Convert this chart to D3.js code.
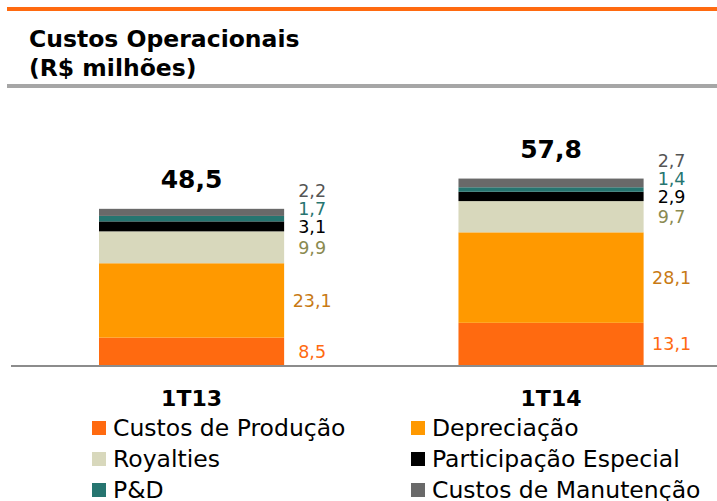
<!DOCTYPE html>
<html>
<head>
<meta charset="utf-8">
<script src="https://cdn.jsdelivr.net/npm/d3@7"></script>
<style>
  body { margin: 0; background: #fff; }
  text { font-family: "DejaVu Sans", Verdana, sans-serif; }
</style>
</head>
<body>
<svg width="717" height="501"></svg>
<script>
// data
var periods = ["1T13", "1T14"];
var seriesNames = ["Custos de Produção", "Depreciação", "Royalties", "Participação Especial", "P&D", "Custos de Manutenção"];
var custosProducao = [8.5, 13.1];
var depreciacao = [23.1, 28.1];
var royalties = [9.9, 9.7];
var participacao = [3.1, 2.9];
var pd = [1.7, 1.4];
var manutencao = [2.2, 2.7];
var totals = [48.5, 57.8];

var fills = ["#ff6a10", "#ff9900", "#d8d8bc", "#000000", "#267570", "#696969"];
var labelColors = ["#ff6a10", "#c87a14", "#8a8a50", "#000000", "#267570", "#555555"];

function main() {
    var svg = d3.select("svg");
    var fmt = function(v){ return v.toFixed(1).replace(".", ","); };

    // header rules
    svg.append("rect").attr("x", 7).attr("y", 7).attr("width", 710).attr("height", 4).attr("fill", "#ff6a10");
    svg.append("rect").attr("x", 7).attr("y", 84).attr("width", 710).attr("height", 4).attr("fill", "#a6a6a6");

    svg.append("text").attr("x", 29).attr("y", 47).attr("font-size", 23.5).attr("font-weight", "bold").text("Custos Operacionais");
    svg.append("text").attr("x", 29).attr("y", 76).attr("font-size", 23.5).attr("font-weight", "bold").text("(R$ milhões)");

    var rows = periods.map(function(p, i){
        return { period: p, values: [custosProducao[i], depreciacao[i], royalties[i], participacao[i], pd[i], manutencao[i]], total: totals[i] };
    });

    var xScale = d3.scaleBand().domain(periods).range([99, 643.6]).paddingInner(0.485).paddingOuter(0);
    var yScale = d3.scaleLinear().domain([0, 60]).range([365, 365 - 3.22 * 60]);

    var g = svg.append("g");

    rows.forEach(function(r){
        var x0 = xScale(r.period), bw = xScale.bandwidth();
        var cum = 0;
        var centers = [];
        r.values.forEach(function(v, k){
            g.append("rect")
             .attr("x", x0).attr("width", bw)
             .attr("y", yScale(cum + v)).attr("height", yScale(cum) - yScale(cum + v))
             .attr("fill", fills[k]);
            centers.push(yScale(cum + v / 2));
            cum += v;
        });

        // spread value labels so they don't collide
        var ly = centers.slice();
        for (var k = 1; k < ly.length; k++) {
            if (ly[k - 1] - ly[k] < 18) ly[k] = ly[k - 1] - 18;
        }
        r.values.forEach(function(v, k){
            g.append("text")
             .attr("x", x0 + bw + 28).attr("y", ly[k]).attr("dy", "0.36em")
             .attr("text-anchor", "middle").attr("font-size", 17.5)
             .attr("fill", labelColors[k]).text(fmt(v));
        });

        g.append("text")
         .attr("x", x0 + bw / 2).attr("y", yScale(r.total) - 21)
         .attr("text-anchor", "middle").attr("font-size", 25).attr("font-weight", "bold")
         .text(fmt(r.total));
    });

    // baseline
    g.append("rect").attr("x", 11).attr("y", 365).attr("width", 706).attr("height", 2).attr("fill", "#8c8c8c");

    // category labels
    g.selectAll(".cat").data(periods).enter().append("text")
     .attr("x", function(d){ return xScale(d) + xScale.bandwidth() / 2; })
     .attr("y", 406).attr("text-anchor", "middle")
     .attr("font-size", 22).attr("font-weight", "bold").text(function(d){ return d; });

    // legend
    var legend = svg.append("g");
    seriesNames.forEach(function(name, k){
        var col = k % 2, row = Math.floor(k / 2);
        var lx = col === 0 ? 92 : 411, ly = 428 + row * 31;
        legend.append("rect").attr("x", lx).attr("y", ly - 7).attr("width", 14).attr("height", 14).attr("fill", fills[k]);
        legend.append("text").attr("x", lx + 21).attr("y", ly).attr("dy", "0.36em")
              .attr("font-size", 23.5).attr("fill", "#000").text(name);
    });
}
main();
</script>
</body>
</html>
